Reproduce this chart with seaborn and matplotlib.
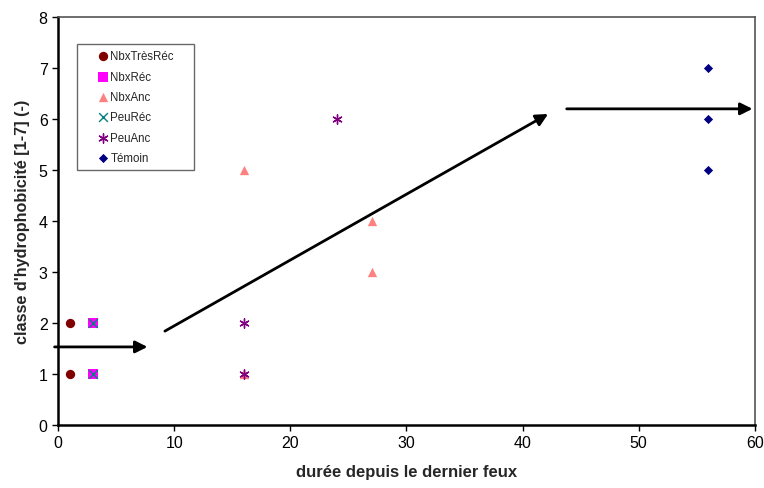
import matplotlib
matplotlib.use('Agg')
import matplotlib.pyplot as plt
import pandas as pd
import seaborn as sns

# data
series = ['NbxTrèsRéc', 'NbxRéc', 'NbxAnc', 'PeuRéc', 'PeuAnc', 'Témoin']
x_vals = {
    'NbxTrèsRéc': [1, 1],
    'NbxRéc':     [3, 3],
    'NbxAnc':     [16, 16, 27, 27],
    'PeuRéc':     [3, 3],
    'PeuAnc':     [16, 16, 24],
    'Témoin':     [56, 56, 56],
}
y_vals = {
    'NbxTrèsRéc': [1, 2],
    'NbxRéc':     [1, 2],
    'NbxAnc':     [1, 5, 4, 3],
    'PeuRéc':     [1, 2],
    'PeuAnc':     [1, 2, 6],
    'Témoin':     [5, 6, 7],
}
colors = ['#800000', '#FF00FF', '#FF8080', '#008080', '#800080', '#000080']
markers = ['o', 's', '^', 'x', (6, 2, 0), 'D']
sizes = [45, 45, 45, 40, 45, 22]

# trend arrows (data coords): start -> end
arrows = [((-0.3, 1.53), (7.7, 1.53)),
          ((9.2, 1.84), (42.2, 6.1)),
          ((43.8, 6.2), (59.8, 6.2))]

rows = []
for s in series:
    for xv, yv in zip(x_vals[s], y_vals[s]):
        rows.append({'serie': s, 'duree': xv, 'classe': yv})
df = pd.DataFrame(rows)

sns.set_style('white')
plt.rcParams['font.family'] = ['Liberation Sans', 'DejaVu Sans']

fig, ax = plt.subplots(figsize=(7.64, 4.89), dpi=100)
fig.subplots_adjust(left=0.076, right=0.988, top=0.963, bottom=0.129)

for s, c, m, sz in zip(series, colors, markers, sizes):
    sub = df[df['serie'] == s]
    lw = 1.0 if m in ('x', (6, 2, 0)) else 0
    sns.scatterplot(data=sub, x='duree', y='classe', ax=ax, color=c,
                    marker=m, s=sz, linewidth=lw, edgecolor=c, label=s,
                    zorder=3)

for (x0, y0), (x1, y1) in arrows:
    ax.annotate('', xy=(x1, y1), xytext=(x0, y0),
                arrowprops=dict(arrowstyle='-|>', color='black', lw=2,
                                mutation_scale=18, shrinkA=0, shrinkB=0),
                annotation_clip=False, zorder=4)

ax.set_xlim(0, 60)
ax.set_ylim(0, 8)
ax.set_xticks(range(0, 61, 10))
ax.set_yticks(range(0, 9))
ax.tick_params(axis='both', labelsize=11.5, direction='out', length=4,
               width=1, colors='black', bottom=True, left=True)
ax.set_xlabel('durée depuis le dernier feux', fontsize=12,
              fontweight='bold', labelpad=10)
ax.set_ylabel("classe d'hydrophobicité [1-7] (-)", fontsize=11.7,
              fontweight='bold', labelpad=6)

for side in ['left', 'bottom']:
    ax.spines[side].set_color('black')
    ax.spines[side].set_linewidth(1.8)
for side in ['top', 'right']:
    ax.spines[side].set_color('#555555')
    ax.spines[side].set_linewidth(1.2)

leg = ax.legend(loc='upper left', bbox_to_anchor=(0.027, 0.934, 0.168, 0.0),
                mode='expand', fontsize=8.3, frameon=True, fancybox=False,
                handletextpad=-1.15, handlelength=3.5, labelspacing=0.72,
                borderpad=0.55, borderaxespad=0)
leg.get_frame().set_edgecolor('#444444')
leg.get_frame().set_linewidth(1.0)

fig.savefig('out.png', dpi=100)
plt.close(fig)
